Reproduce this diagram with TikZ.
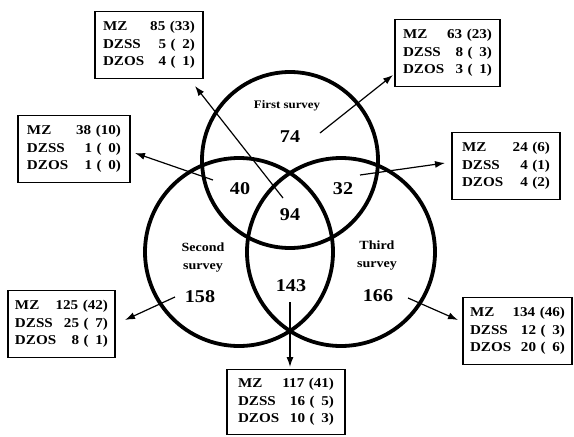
\documentclass[tikz,border=0pt]{standalone}
\usepackage{fontspec}
\setmainfont{Liberation Serif}[FakeStretch=1.12]
\usetikzlibrary{arrows.meta}
\tikzset{
  venn/.style={circle, draw, line width=3.8pt, inner sep=0pt, minimum size=#1},
  databox/.style={draw, line width=1.2pt, inner sep=0pt, align=left,
    minimum height=67pt, font=\bfseries\fontsize{13.5}{17.5}\selectfont},
  lbl/.style={align=center, font=\bfseries\fontsize{12.5}{18}\selectfont},
  num/.style={font=\bfseries\fontsize{18}{18}\selectfont},
  arr/.style={line width=1.2pt, -{Latex[length=10pt,width=7pt]}}
}
\begin{document}
\begin{tikzpicture}[x=1pt,y=-1pt]
\useasboundingbox[fill=white] (0,0) rectangle (574,437);
% circles
\node[venn=176pt] (c1) at (290,160) {};
\node[venn=188pt] (c2) at (239,252) {};
\node[venn=188pt] (c3) at (341,252) {};
% labels
\node[lbl, font=\bfseries\fontsize{11.5}{13}\selectfont] (l1) at (287,106) {First survey};
\node[lbl] (l2) at (203,258) {Second\\survey};
\node[lbl] (l3) at (377,256) {Third\\survey};
\node[num] (n74) at (290,137) {74};
\node[num] (n40) at (240,189) {40};
\node[num] (n32) at (343,189) {32};
\node[num] (n94) at (290,215) {94};
\node[num] (n158) at (200,297) {158};
\node[num] (n143) at (291,286) {143};
\node[num] (n166) at (378,296) {166};
% boxes
\node[databox, minimum width=108pt, text width=92pt] (b1) at (149,45)
  {MZ\hfill 85 (33)\\DZSS\hfill 5 (\enspace2)\\DZOS\hfill 4 (\enspace1)};
\node[databox, minimum width=112pt, text width=94pt] (b2) at (74,149)
  {MZ\hfill 38 (10)\\DZSS\hfill 1 (\enspace0)\\DZOS\hfill 1 (\enspace0)};
\node[databox, minimum width=105pt, text width=89pt] (b3) at (447.5,53)
  {MZ\hfill 63 (23)\\DZSS\hfill 8 (\enspace3)\\DZOS\hfill 3 (\enspace1)};
\node[databox, minimum width=108pt, text width=88pt] (b4) at (506,166)
  {MZ\hfill 24 (6)\\DZSS\hfill 4 (1)\\DZOS\hfill 4 (2)};
\node[databox, minimum width=107pt, text width=93pt] (b5) at (61.5,324)
  {MZ\hfill 125 (42)\\DZSS\hfill 25 (\enspace7)\\DZOS\hfill 8 (\enspace1)};
\node[databox, minimum width=118pt, minimum height=65pt, text width=96pt] (b6) at (286,402)
  {MZ\hfill 117 (41)\\DZSS\hfill 16 (\enspace5)\\DZOS\hfill 10 (\enspace3)};
\node[databox, minimum width=109pt, text width=95pt] (b7) at (517.5,331)
  {MZ\hfill 134 (46)\\DZSS\hfill 12 (\enspace3)\\DZOS\hfill 20 (\enspace6)};
% arrow ends
\coordinate (s1) at (283,198); \coordinate (t1) at (195,86);
\coordinate (s2) at (213,180); \coordinate (t2) at (135,153);
\coordinate (s3) at (320,133); \coordinate (t3) at (393,75);
\coordinate (s4) at (360,175); \coordinate (t4) at (445,163);
\coordinate (s5) at (175,297); \coordinate (t5) at (125,320);
\coordinate (s6) at (290,302); \coordinate (t6) at (290,367);
\coordinate (s7) at (408,298); \coordinate (t7) at (458,320);
\foreach \i in {1,...,7} \draw[arr] (s\i) -- (t\i);
\end{tikzpicture}
\end{document}
